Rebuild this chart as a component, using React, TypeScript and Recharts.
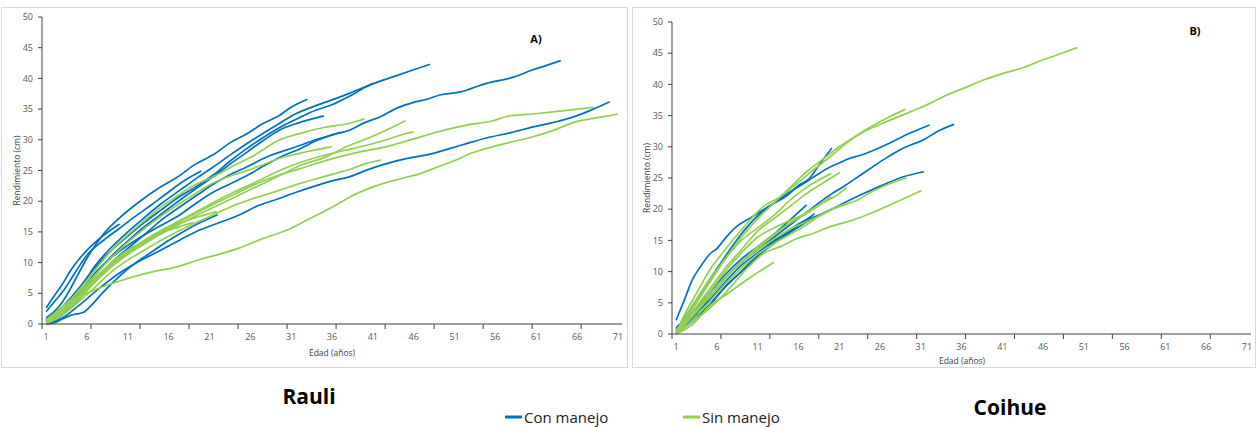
import { LineChart, Line, XAxis, YAxis } from "recharts";

const BLUE = "#0070C0";
const GREEN = "#92D050";

// tick labels / marks
const xLabelTicks = [1, 6, 11, 16, 21, 26, 31, 36, 41, 46, 51, 56, 61, 66, 71];
const xMarkTicks = [0.5, 6.5, 12.5, 18.5, 24.5, 30.5, 36.5, 42.5, 48.5, 54.5, 60.5, 66.5];
const yTicks = [0, 5, 10, 15, 20, 25, 30, 35, 40, 45, 50];

// Rauli - con manejo  [edad, rendimiento]
const rauliConA = [[1, 2.6], [2, 4.6], [3, 6.5], [4, 8.7], [5, 10.5], [6, 12], [7, 13.3], [8, 14.4], [9, 15.4], [10, 16.3]];
const rauliConB = [[1, 2], [2, 3.6], [3, 5.2], [4, 7.2], [5, 9.3], [6, 11.2], [8, 13.6], [10, 15.6], [12, 17.6], [14, 19.5], [16, 21.5], [18, 23.4], [20, 24.9]];
const rauliConC = [[1, 1], [2, 2], [3, 3.6], [4, 5.8], [5, 8.3], [6, 10.7], [7, 12.8], [8, 14.6], [10, 17.3], [12.5, 20], [15, 22.3], [17.4, 24.2], [19, 25.8], [21.5, 27.6], [23.5, 29.5], [25.6, 31], [27.5, 32.6], [29.6, 34], [31, 35.3], [33, 36.6]];
const rauliConD = [[1, 0.3], [3, 1.8], [5, 4.5], [7, 8], [9, 11], [11, 13.5], [13, 15.8], [15, 17.8], [17.4, 20.2], [19.5, 22.2], [21.5, 24], [23.5, 26], [25.6, 28], [27.5, 29.8], [29.6, 31.6], [32, 32.8], [35, 33.9]];
const rauliConE = [[1, 0.5], [3, 2.5], [5, 5.5], [7, 9.5], [9, 12.5], [11, 15], [13, 17.3], [15, 19.5], [17.4, 21.8], [19.5, 23.8], [21.5, 25.6], [23.5, 27.5], [25.6, 29.4], [27.5, 31], [29.6, 32.7], [31.5, 34.2], [33.7, 35.4], [36, 36.5], [38.2, 37.6], [40, 38.6], [42, 39.6], [44, 40.5], [46, 41.4], [48, 42.3]];
const rauliConE2 = [[1, 0.8], [3, 2.8], [5, 5.8], [7, 9.2], [9, 12], [11, 14.3], [13, 16.5], [15, 18.5], [17.4, 20.8], [19.5, 22.5], [21.5, 24.3], [23.5, 26.5], [25.6, 28.6], [27.5, 30.3], [29.6, 32], [32, 33.6], [34, 34.8], [36, 35.7], [38, 37], [40, 38.5], [41, 39.2]];
const rauliConF = [[1, 0.3], [3, 1.5], [5, 4], [7, 7], [9, 10], [11, 12.3], [13, 14.5], [15, 16.8], [17.4, 19.1], [19.5, 21], [21.5, 22.8], [23.5, 24.3], [25.6, 25.6], [28, 27.2], [31.7, 28.9], [34, 30], [36, 30.8], [38.2, 31.6], [40, 32.8], [42, 33.8], [44, 35.2], [46, 36.1], [47.6, 36.6], [49.2, 37.3], [51.7, 37.8], [54.9, 39.2], [58.2, 40.2], [60.6, 41.4], [62, 42], [64, 42.9]];
const rauliConJ = [[1, 0.6], [3, 2.2], [5, 5], [7, 8.3], [9, 10.8], [11, 12.8], [13, 14.5], [15, 16], [17.4, 17.8], [19.5, 19.8], [21.5, 21.5], [23.5, 22.8], [25.6, 24.2], [28, 26], [30, 27.4], [31.7, 28.3], [34, 29.8], [37, 31.2]];
const rauliConG = [[1, 0], [2, 0.4], [3, 1], [5, 3], [7.5, 5.8], [10, 8.3], [12.5, 10.3], [15, 12], [17.4, 13.7], [19.8, 15.3], [22, 16.4], [24.7, 17.8], [27, 19.3], [29, 20.2], [31.7, 21.5], [34, 22.5], [36, 23.3], [38.2, 24], [40.3, 25.1], [44, 26.6], [48.4, 27.8], [52, 29.2], [54.9, 30.3], [58, 31.2], [60.6, 32.1], [63, 32.8], [65.5, 33.7], [68, 35], [70, 36.2]];
const rauliConH = [[1, 0], [2, 0.2], [3, 0.8], [4, 1.4], [5, 1.7], [5.6, 1.9], [6.5, 3], [8, 5.2], [10, 7.8], [12, 10], [14, 11.8], [16, 13.6], [18, 15.2], [20, 16.6], [22, 17.8]];

// Rauli - sin manejo
const rauliSin1 = [[1, 0.3], [2, 1.3], [2.7, 2.3], [4, 3.6], [5.2, 4.5], [7.6, 5.9], [10, 7], [13.7, 8.4], [17, 9.3], [19.8, 10.5], [22, 11.3], [24.7, 12.4], [27.5, 13.9], [30.5, 15.3], [32.9, 16.9], [36, 19], [38.2, 20.7], [40, 21.8], [42.3, 22.9], [44.5, 23.7], [46.8, 24.5], [49, 25.6], [51.7, 27], [53, 27.8], [54.9, 28.6], [57.5, 29.5], [60.6, 30.5], [63, 31.5], [66, 33], [68.5, 33.6], [71, 34.2]];
const rauliSin2 = [[1, 0.5], [3, 2.5], [5, 5.5], [7, 8.8], [9, 12], [11, 14.5], [13, 16.8], [15, 19], [17, 20.8], [19, 22.5], [21.5, 24], [24, 25.8], [26.5, 27.5], [29.6, 30], [32, 31], [35, 32], [38.2, 32.7], [40, 33.4]];
const rauliSin3 = [[1, 0.7], [3, 2.8], [5, 5.2], [7, 8], [9, 10.8], [11, 13.3], [13, 15.5], [15, 17.5], [17, 19.3], [19, 21], [21.5, 23], [24, 24.3], [26.5, 25.4], [29.6, 27], [32, 27.8], [36, 28.9]];
const rauliSin4 = [[1, 0.2], [3, 1.8], [5, 4], [7, 6.8], [9, 9.3], [11, 11.3], [13, 13], [15, 14.6], [17, 16], [19, 17.4], [21.5, 19], [24, 20.6], [26.5, 22.2], [29.6, 24.2], [32.1, 25.8], [35.4, 27.3], [37.8, 28.9], [40.3, 30.2], [42.7, 31.6], [45, 33.1]];
const rauliSin5 = [[1, 0.4], [3, 2.2], [5, 4.5], [7, 7.2], [9, 9.8], [11, 11.8], [13, 13.6], [15, 15.2], [17, 16.6], [19, 18], [21.5, 19.8], [24, 21.5], [26.5, 23], [29.6, 25], [32.1, 26.3], [35.4, 27.6], [38.6, 28.6], [40.5, 29.2], [42.7, 30], [44.7, 30.9], [46, 31.3]];
const rauliSin6 = [[1, 0], [3, 1.5], [5, 3.6], [7, 6], [9, 8.5], [11, 10.4], [13, 12], [15, 13.6], [17, 15], [19, 16.3], [21.5, 17.8], [24, 19.3], [26.5, 20.5], [29.6, 21.8], [32.1, 22.9], [36.1, 24.4], [38.2, 25.2], [40.3, 26.2], [42, 26.7]];
const rauliSin7 = [[1, 0.5], [3, 2], [5, 4.2], [7, 7], [9, 9.6], [11, 11.6], [13, 13.3], [15, 14.9], [17, 16.4], [19, 17.8], [21.5, 19.5], [24, 21.1], [26.5, 22.7], [29.6, 24.3], [32.1, 25.3], [35.4, 26.7], [38.6, 27.8], [42.7, 28.9], [45.9, 30.1], [48.4, 31.1], [52.5, 32.4], [55.7, 33.1], [57.4, 33.8], [60.6, 34.2], [64.7, 34.8], [68, 35.3]];
const rauliSin8 = [[1, 0.3], [3, 2], [5, 4.3], [7, 7], [9, 9.5], [11, 11.5], [13, 13.2], [15, 14.8], [17, 16.2], [19, 17.2], [21.9, 18.3]];
const rauliSin9 = [[1, 0.6], [3, 2.4], [5, 4.8], [7, 7.5], [9, 10], [11, 12], [13, 13.5], [15, 14.8], [17, 15.7], [19, 16.5]];

// Coihue - con manejo
const coihueCon1 = [[1, 2.2], [2, 5.4], [3, 8.7], [4, 10.8], [5.2, 12.9], [6, 13.7], [7.2, 15.6], [8.4, 17.2], [10, 18.5], [11.7, 19.9], [13, 21], [15, 22.8], [17, 24.4], [19.5, 26.5], [21, 27.4], [22, 28], [24, 28.8], [26.9, 30.4], [29.7, 32.2], [32.1, 33.5]];
const coihueCon2 = [[1, 0.8], [2, 2.5], [3.5, 5.5], [5, 8.5], [6.8, 12], [8.4, 15], [10.5, 18.3], [12.5, 20.5], [14.6, 22.2], [16, 23.8], [17.4, 25], [18.5, 27], [20.1, 29.8]];
const coihueCon3 = [[1, 0.3], [3, 2.5], [5, 5.8], [7, 9], [9, 11.5], [11, 13.5], [13, 15.5], [15, 17.5], [17, 19.5], [19.9, 22.3], [21.5, 23.6], [24, 25.8], [26.4, 27.9], [28.9, 29.8], [31.3, 31.1], [33.4, 32.7], [35.1, 33.6]];
const coihueCon4 = [[1, 0.2], [3, 2], [5, 4.5], [7, 7.5], [9, 10], [11, 12.5], [13, 14.5], [15.8, 17], [18.3, 18.9], [20.7, 20.4], [21.9, 21.2], [24, 22.5], [26.4, 23.9], [28.9, 25.2], [31.4, 26]];
const coihueCon5 = [[1, 1], [3, 3.5], [5, 6.5], [7, 9.5], [9, 12], [11, 14], [13, 16], [15, 18.3], [17, 20.7]];
const coihueCon6 = [[1, 0.5], [3, 2.5], [5, 4.5], [7, 7.5], [9, 10], [11, 12.5], [13, 14.8], [15, 16.5], [18, 19.3]];
const coihueCon7 = [[1, 0.5], [3, 2.8], [5, 5.3], [7, 8.3], [9, 11], [11, 13], [13, 15], [15, 16.8], [17, 18.3], [19, 19.2]];

// Coihue - sin manejo
const coihueSin1 = [[1, 0.2], [2, 3], [3.5, 6.5], [5, 10], [6.4, 12.5], [8.9, 16.5], [11.7, 20.4], [13.8, 22], [15.8, 24.1], [18.3, 26.8], [19.9, 28.4], [21.9, 30.6], [24, 32.4], [26.4, 33.8], [29.7, 35.6], [32.2, 37], [34.2, 38.3], [36.3, 39.4], [38.7, 40.7], [41.2, 41.8], [43.6, 42.7], [45.3, 43.6], [47.7, 44.7], [50.2, 45.9]];
const coihueSin2 = [[1, 0.3], [3, 4.5], [5, 8.5], [7, 12], [9, 15.5], [11, 18.5], [13, 21], [15, 23.5], [17, 26], [19, 28], [21, 30], [23, 31.7], [25, 33.3], [27, 34.7], [29.1, 36]];
const coihueSin3 = [[1, 0], [3, 2.8], [5, 6], [7, 9], [9, 11.5], [11, 13.5], [13, 15.2], [15, 16.8], [17, 18], [19, 19.2], [21, 20.5], [23, 21.3], [25, 22.8], [27, 24], [29.3, 25]];
const coihueSin4 = [[1, 0], [3, 2], [5, 4], [7, 6.5], [9.7, 10.5], [11.7, 12.9], [13.8, 14], [15.8, 15.3], [17.8, 16.1], [19.9, 17.2], [22.8, 18.3], [24.8, 19.3], [28.1, 21.2], [31.1, 23]];
const coihueSin5 = [[1, 0], [3, 1.5], [5.2, 4.6], [6.8, 6], [9.7, 8.7], [13, 11.5]];
const coihueSin6 = [[1, 0.5], [3, 3.5], [5, 7], [7, 10.5], [9, 13.5], [11, 16.5], [13, 18.5], [15, 20.5], [17, 22.5], [19, 24.2], [21.1, 25.9]];
const coihueSin7 = [[1, 0.5], [3, 4], [5, 8], [7, 12], [9, 15], [11, 17], [13, 19], [15, 21.5], [17, 23.5], [20, 25.7]];
const coihueSin8 = [[1, 0.2], [3, 2.8], [5, 5.8], [7, 8.8], [9, 11.5], [11, 13.8], [13, 15.8], [15, 17.8], [17, 19.5], [19, 21], [21, 22.5], [21.9, 23.5]];
const coihueSin9 = [[1, 0.5], [3, 3], [5, 6], [7, 9], [9, 11.5], [11, 14], [13, 16], [15, 17.8], [17, 19.3], [20, 22]];
const coihueSin10 = [[1, 0], [3, 2.2], [5, 5], [7, 8], [9, 10.5], [11, 12.8], [13, 14.5], [15, 16], [17, 17.5], [19, 19.3], [22, 20.8]];
const coihueSin11 = [[1, 0.2], [3, 3], [5, 6.5], [7, 10], [9, 13], [11, 15.5], [13, 17], [15, 18.2], [17, 19.3]];

const rauliCon = [rauliConA, rauliConB, rauliConC, rauliConD, rauliConE, rauliConE2, rauliConF, rauliConJ, rauliConG, rauliConH];
const rauliSin = [rauliSin1, rauliSin2, rauliSin3, rauliSin4, rauliSin5, rauliSin6, rauliSin7, rauliSin8, rauliSin9];
const coihueCon = [coihueCon1, coihueCon2, coihueCon3, coihueCon4, coihueCon5, coihueCon6, coihueCon7];
const coihueSin = [coihueSin1, coihueSin2, coihueSin3, coihueSin4, coihueSin5, coihueSin6, coihueSin7, coihueSin8, coihueSin9, coihueSin10, coihueSin11];

const allXTicks = [...xLabelTicks, ...xMarkTicks].sort((a, b) => a - b);
const toData = (s: number[][]) => s.map(([age, v]) => ({ age, v }));

// tick marks every 6 categories, labels every 5 (like the Excel original)
const XTick = ({ x, y, payload }: any) => {
  const v = payload.value;
  if (xMarkTicks.includes(v)) {
    return <line x1={x} x2={x} y1={y} y2={y + 5} stroke="#404040" strokeWidth={1} />;
  }
  return (
    <text x={x} y={y + 16} textAnchor="middle" fontSize={9} fill="#595959">
      {v}
    </text>
  );
};

interface PanelProps {
  left: number;
  width: number;
  top: number;
  right: number;
  yAxisWidth: number;
  xAxisHeight: number;
  con: number[][][];
  sin: number[][][];
}

function Panel({ left, width, top, right, yAxisWidth, xAxisHeight, con, sin }: PanelProps) {
  return (
    <>
      <div
        style={{
          position: "absolute",
          left,
          top: 7,
          width,
          height: 361,
          border: "1px solid #d9d9d9",
          boxSizing: "border-box",
        }}
      />
      <div style={{ position: "absolute", left, top: 7 }}>
        <LineChart width={width} height={361} margin={{ top, right, left: 0, bottom: 0 }}>
          <XAxis
            type="number"
            dataKey="age"
            domain={[0.5, 71.5]}
            allowDataOverflow
            ticks={allXTicks}
            interval={0}
            tick={XTick}
            tickLine={false}
            tickSize={0}
            tickMargin={0}
            height={xAxisHeight}
            axisLine={{ stroke: "#404040" }}
          />
          <YAxis
            type="number"
            domain={[0, 50]}
            ticks={yTicks}
            interval={0}
            width={yAxisWidth}
            tickSize={4}
            tickMargin={5}
            tick={{ fontSize: 9, fill: "#595959" }}
            tickLine={{ stroke: "#404040" }}
            axisLine={{ stroke: "#404040" }}
          />
          {con.map((s, i) => (
            <Line
              key={"c" + i}
              data={toData(s)}
              dataKey="v"
              type="monotone"
              stroke={BLUE}
              strokeWidth={1.7}
              dot={false}
              activeDot={false}
              isAnimationActive={false}
            />
          ))}
          {sin.map((s, i) => (
            <Line
              key={"s" + i}
              data={toData(s)}
              dataKey="v"
              type="monotone"
              stroke={GREEN}
              strokeWidth={1.7}
              dot={false}
              activeDot={false}
              isAnimationActive={false}
            />
          ))}
        </LineChart>
      </div>
    </>
  );
}

export default function App() {
  return (
    <div
      style={{
        position: "absolute",
        left: 0,
        top: 0,
        width: 1256,
        height: 427,
        background: "#fff",
        fontFamily: "'Open Sans', sans-serif",
        overflow: "hidden",
      }}
    >
      <Panel left={1} width={627} top={10} right={6} yAxisWidth={41} xAxisHeight={44} con={rauliCon} sin={rauliSin} />
      <Panel left={632} width={624} top={15} right={5} yAxisWidth={40} xAxisHeight={34} con={coihueCon} sin={coihueSin} />

      <svg width={1256} height={427} style={{ position: "absolute", left: 0, top: 0, pointerEvents: "none" }}>
        <g fontSize={8.5} fill="#404040">
          <text x={16} y={170.5} textAnchor="middle" dominantBaseline="central" transform="rotate(-90 16 170.5)">
            Rendimiento (cm)
          </text>
          <text x={332} y={352} textAnchor="middle" dominantBaseline="central">
            Edad (años)
          </text>
          <text x={646} y={178} textAnchor="middle" dominantBaseline="central" transform="rotate(-90 646 178)">
            Rendimiento (cm)
          </text>
          <text x={962} y={360} textAnchor="middle" dominantBaseline="central">
            Edad (años)
          </text>
        </g>
        <text x={536} y={38} textAnchor="middle" dominantBaseline="central" fontSize={11} fontWeight="bold" fill="#000">
          A)
        </text>
        <text x={1195} y={30} textAnchor="middle" dominantBaseline="central" fontSize={11} fontWeight="bold" fill="#000">
          B)
        </text>

        <text x={309} y={396} textAnchor="middle" dominantBaseline="central" fontSize={21} fontWeight="bold" fill="#000">
          Rauli
        </text>
        <text x={1010} y={407} textAnchor="middle" dominantBaseline="central" fontSize={21} fontWeight="bold" fill="#000">
          Coihue
        </text>

        <line x1={505} x2={522} y1={417} y2={417} stroke={BLUE} strokeWidth={3} />
        <text x={524} y={417} dominantBaseline="central" fontSize={15} fill="#222">
          Con manejo
        </text>
        <line x1={683} x2={700} y1={417} y2={417} stroke={GREEN} strokeWidth={3} />
        <text x={702} y={417} dominantBaseline="central" fontSize={15} fill="#222">
          Sin manejo
        </text>
      </svg>
    </div>
  );
}
